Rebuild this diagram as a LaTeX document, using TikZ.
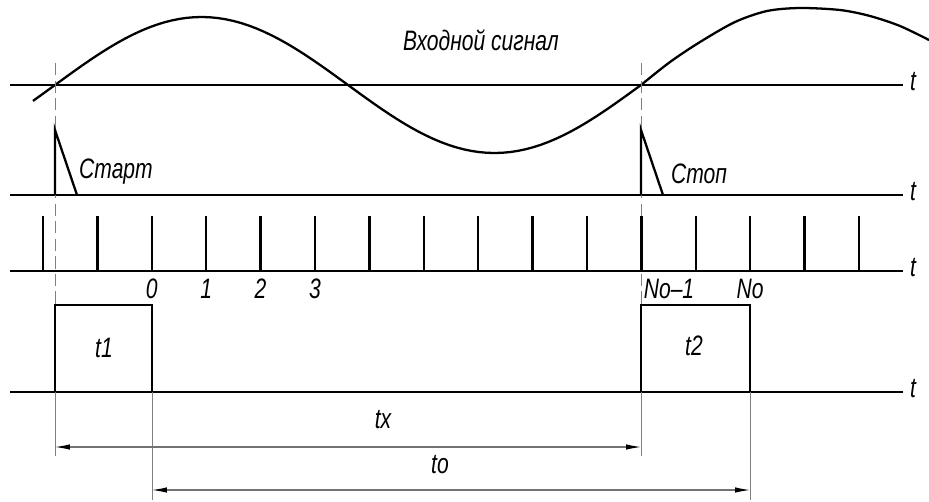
\documentclass[tikz,border=0pt]{standalone}
\usepackage{fontspec}
\newfontfamily\gostfont[FakeStretch=0.75]{Liberation Sans}
\usetikzlibrary{arrows.meta}

\begin{document}
\begin{tikzpicture}[x=0.02cm, y=-0.02cm,
        axisLine/.style={line width=1.6pt},
        sigLine/.style={line width=1.3pt},
        pulseLine/.style={line width=1.3pt},
        guideLine/.style={draw=black!50, line width=0.5pt, dash pattern=on 7pt off 3pt},
        extLine/.style={draw=black!50, line width=0.5pt},
        dimLine/.style={{Latex[length=3mm,width=1.1mm,color=black]}-{Latex[length=3mm,width=1.1mm,color=black]}, draw=black!55, line width=0.6pt},
        lbl/.style={font=\gostfont\itshape\fontsize{16}{19}\selectfont, inner sep=1pt}
      ]
      \useasboundingbox (0,0) rectangle (929,501);

      % time axes
      \foreach \y/\name in {85/sig, 195/trig, 271/clk, 392/gate} {
        \draw[axisLine] (10,\y) -- (903,\y);
        \node[lbl] (t\name) at (913,{\y-3}) {t};
      }

      % input signal
      \draw[sigLine] plot[domain=33:641, samples=80] (\x,{85-68*sin((\x-55)/586*360)})
        -- plot[smooth] coordinates {(641,85) (670,62) (700,42) (735,22) (767,11) (800,8) (840,10) (870,16) (900,26) (929,40)};
      \node[lbl] (sigText) at (481,40) {Входной сигнал};

      % start / stop marks
      \coordinate (startTop) at (55,63);
      \coordinate (stopTop) at (641,63);
      \coordinate (startGate) at (55,392);
      \coordinate (stopGate) at (641,392);
      \draw[guideLine] (startTop) -- (startGate);
      \draw[guideLine] (stopTop) -- (stopGate);
      \draw[pulseLine] (55,195) -- (55,130) -- (77,195);
      \draw[pulseLine] (641,195) -- (641,130) -- (663,195);
      \node[lbl] (startText) at (116,172) {Старт};
      \node[lbl] (stopText) at (699,174) {Стоп};

      % clock pulses
      \foreach \k in {0,...,15}
        \draw[pulseLine] ({43+54.4*\k},271) -- ++(0,-55);
      \foreach \k/\lab in {2/0, 3/1, 4/2, 5/3, 13/No}
        \node[lbl] (n\k) at ({43+54.4*\k},289) {\lab};
      \node[lbl] (n12) at (669,289) {No–1};

      % gate pulses
      \draw[pulseLine] (startGate) |- (152,305) -- (152,392);
      \draw[pulseLine] (stopGate) |- (750,305) -- (750,392);
      \node[lbl] (tOne) at (104,348) {t1};
      \node[lbl] (tTwo) at (694,346) {t2};

      % dimensions
      \coordinate (txA) at (55,447);
      \coordinate (txB) at (641,447);
      \coordinate (toA) at (152,490);
      \coordinate (toB) at (750,490);
      \draw[extLine] (startGate) -- (55,456);
      \draw[extLine] (stopGate) -- (641,456);
      \draw[extLine] (152,392) -- (152,500);
      \draw[extLine] (750,392) -- (750,500);
      \draw[dimLine] (txA) -- (txB);
      \draw[dimLine] (toA) -- (toB);
      \node[lbl] (txText) at (383,420) {tx};
      \node[lbl] (toText) at (440,465) {to};
    \end{tikzpicture}
\end{document}
